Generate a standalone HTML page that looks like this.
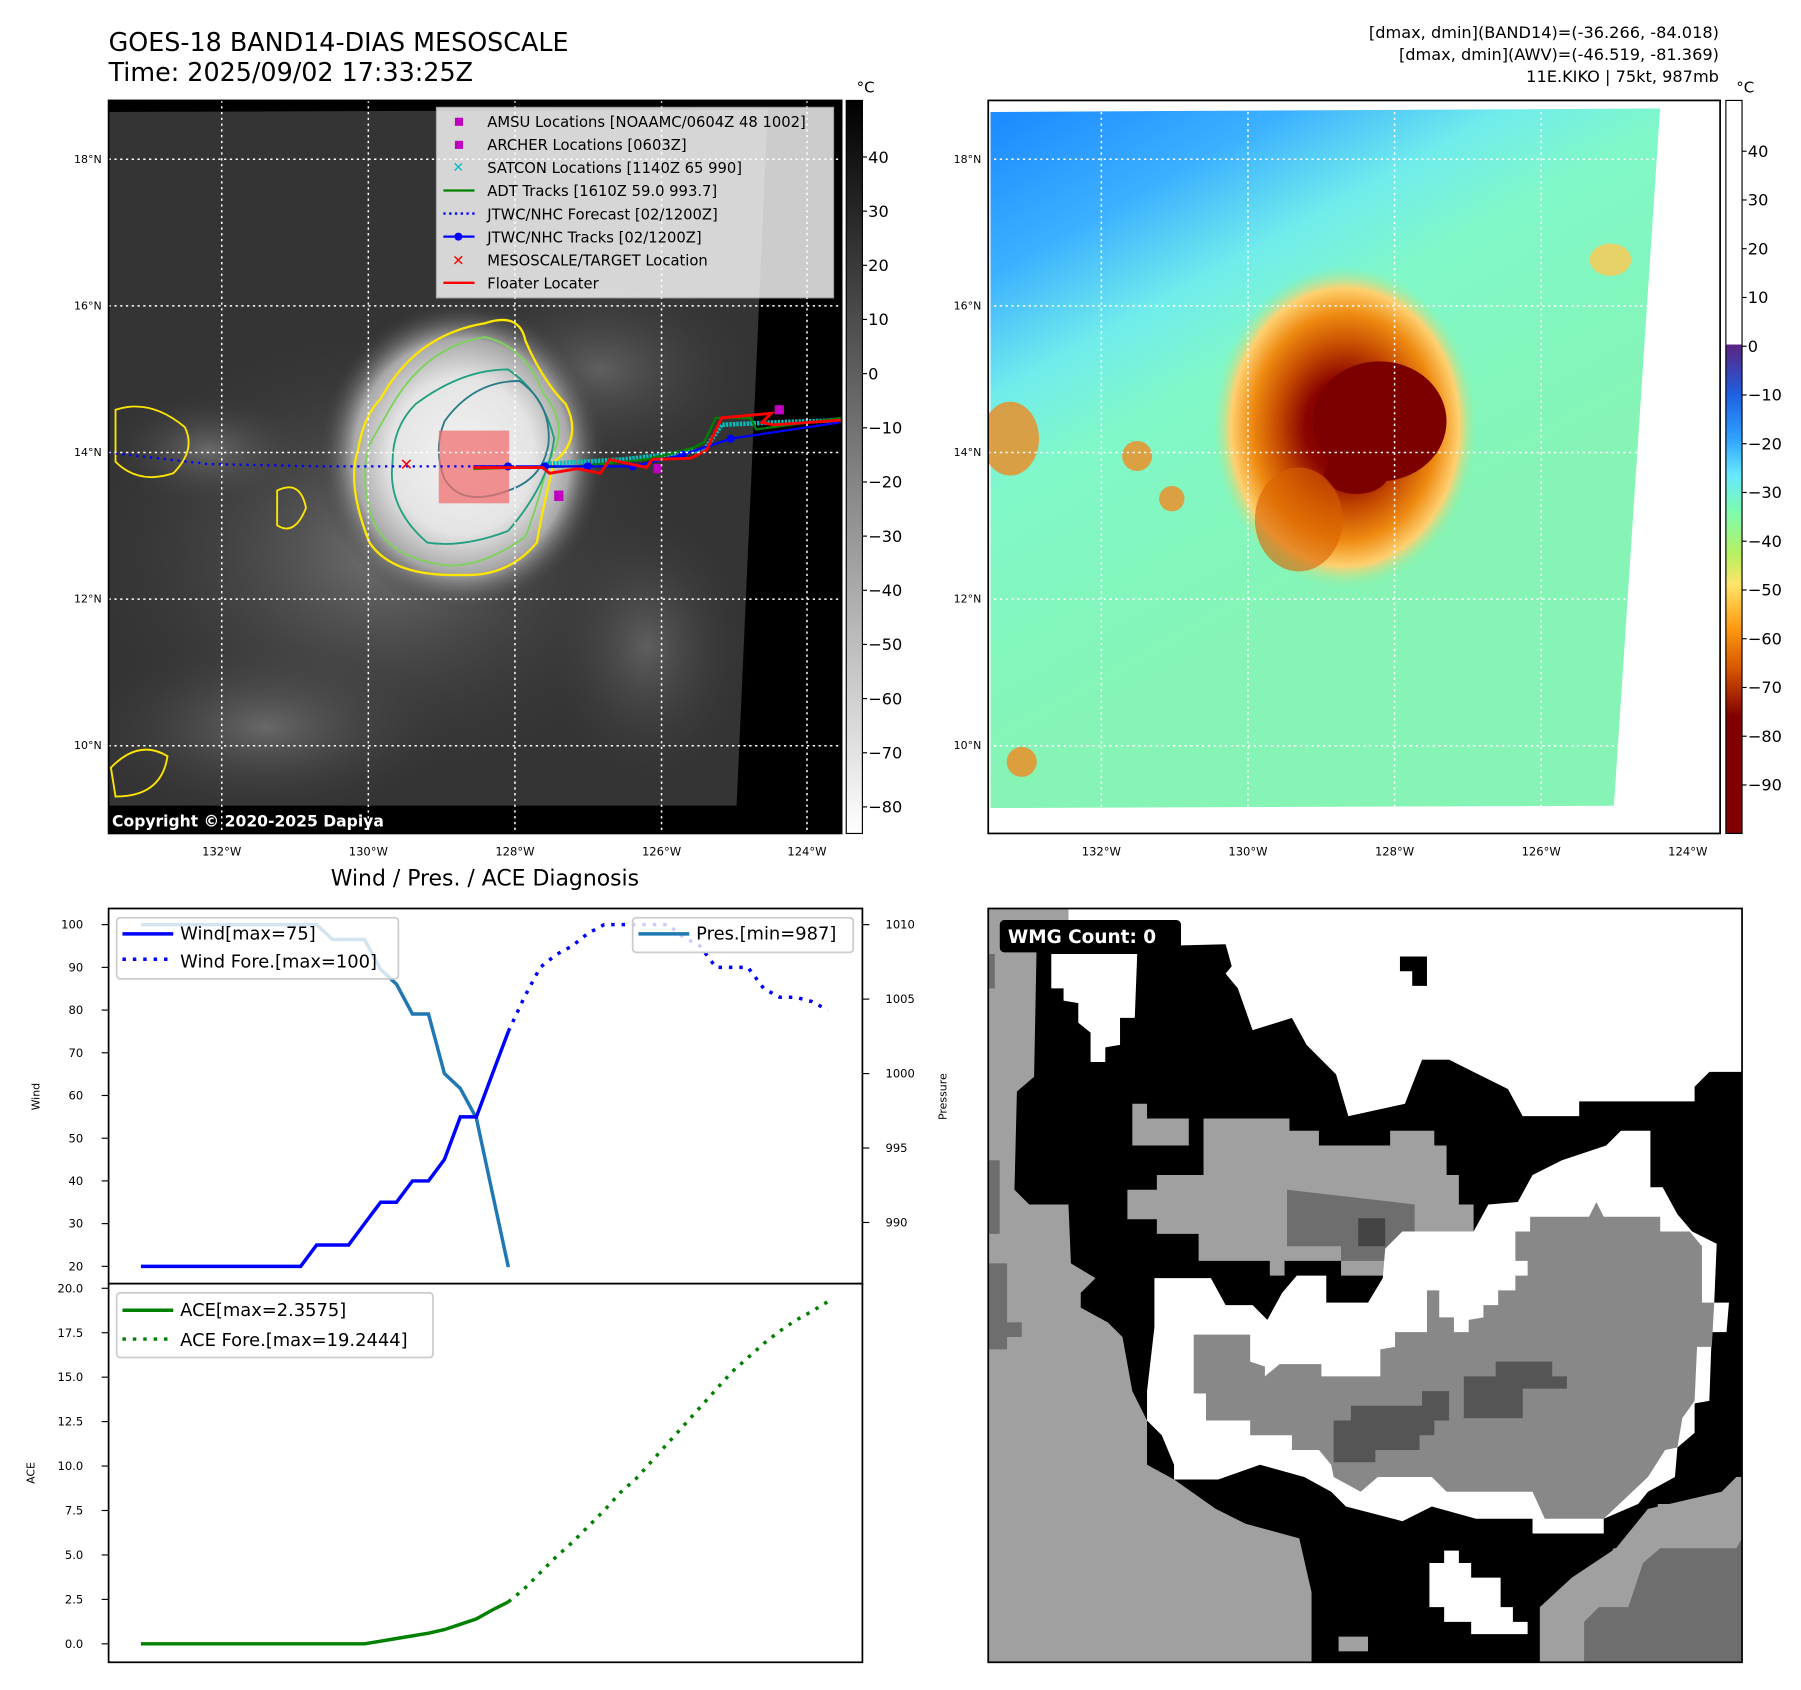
<!DOCTYPE html>
<html><head><meta charset="utf-8"><title>GOES-18 BAND14 KIKO</title>
<style>
html,body{margin:0;padding:0;background:#fff;}
svg{display:block;font-family:"DejaVu Sans","Liberation Sans",sans-serif;}
</style></head>
<body>
<svg id="root" width="1801" height="1690" viewBox="0 0 1560 1464" xmlns="http://www.w3.org/2000/svg">
<defs>
 <radialGradient id="stormGray" cx="0.5" cy="0.5" r="0.5">
  <stop offset="0" stop-color="#f2f2f2"/><stop offset="0.5" stop-color="#e4e4e4"/>
  <stop offset="0.75" stop-color="#a8a8a8"/><stop offset="1" stop-color="#3a3a3a" stop-opacity="0"/>
 </radialGradient>
 <linearGradient id="cb1" x1="0" y1="0" x2="0" y2="1">
  <stop offset="0" stop-color="#000"/><stop offset="1" stop-color="#fff"/>
 </linearGradient>
 <linearGradient id="cb2" x1="0" y1="0" x2="0" y2="1">
  <stop offset="0" stop-color="#fff"/><stop offset="0.332" stop-color="#fff"/>
  <stop offset="0.334" stop-color="#5a2483"/><stop offset="0.40" stop-color="#1f5fe0"/>
  <stop offset="0.46" stop-color="#2ea0ff"/><stop offset="0.51" stop-color="#66e8ff"/>
  <stop offset="0.56" stop-color="#7cfbb0"/><stop offset="0.62" stop-color="#b8f060"/>
  <stop offset="0.66" stop-color="#ffe46a"/><stop offset="0.72" stop-color="#ff9a10"/>
  <stop offset="0.78" stop-color="#d25000"/><stop offset="0.84" stop-color="#800000"/>
  <stop offset="1" stop-color="#800000"/>
 </linearGradient>
 <linearGradient id="bg2" x1="0.05" y1="0" x2="0.45" y2="0.75">
  <stop offset="0" stop-color="#1e8cff"/><stop offset="0.22" stop-color="#3cb0ff"/>
  <stop offset="0.4" stop-color="#70ecec"/><stop offset="0.55" stop-color="#80f8c8"/>
  <stop offset="1" stop-color="#86f4b4"/>
 </linearGradient>
 <radialGradient id="storm2" cx="0.5" cy="0.5" r="0.5">
  <stop offset="0" stop-color="#7a0000"/><stop offset="0.3" stop-color="#8a0400"/>
  <stop offset="0.5" stop-color="#c44800"/><stop offset="0.7" stop-color="#ee8a10"/>
  <stop offset="0.86" stop-color="#ffd070"/><stop offset="1" stop-color="#90f0a0" stop-opacity="0"/>
 </radialGradient>
 <radialGradient id="clouds" cx="0.5" cy="0.5" r="0.5">
  <stop offset="0" stop-color="#8a8a8a"/><stop offset="1" stop-color="#3a3a3a" stop-opacity="0"/>
 </radialGradient>
 <clipPath id="clip1"><rect x="94" y="87" width="635" height="635"/></clipPath>
 <clipPath id="clip2"><rect x="856" y="87" width="634" height="635"/></clipPath>
</defs>

<!-- Titles -->
<text x="94" y="44" font-size="22">GOES-18 BAND14-DIAS MESOSCALE</text>
<text x="94" y="70" font-size="22">Time: 2025/09/02 17:33:25Z</text>
<g font-size="14" text-anchor="end">
 <text x="1489" y="33">[dmax, dmin](BAND14)=(-36.266, -84.018)</text>
 <text x="1489" y="52">[dmax, dmin](AWV)=(-46.519, -81.369)</text>
 <text x="1489" y="71">11E.KIKO | 75kt, 987mb</text>
</g>

<!-- MAP 1 -->
<g clip-path="url(#clip1)">
 <rect x="94" y="87" width="635" height="635" fill="#000"/>
 <polygon points="94,97 665,95 638,698 94,698" fill="#343434"/>
 <ellipse cx="330" cy="480" rx="260" ry="200" fill="url(#clouds)" opacity="0.7"/>
 <ellipse cx="520" cy="320" rx="140" ry="90" fill="url(#clouds)" opacity="0.5"/>
 <ellipse cx="230" cy="630" rx="160" ry="80" fill="url(#clouds)" opacity="0.6"/>
 <ellipse cx="560" cy="560" rx="90" ry="120" fill="url(#clouds)" opacity="0.5"/>
 <ellipse cx="180" cy="390" rx="90" ry="50" fill="url(#clouds)" opacity="0.6"/>
 <ellipse cx="400" cy="395" rx="125" ry="135" fill="url(#stormGray)"/>
 <path d="M330,345 Q360,290 420,280 Q450,270 455,295 Q470,330 490,350 Q505,380 480,400 Q470,440 465,470 Q440,500 400,498 Q340,500 320,470 Q300,420 310,390 Q315,360 330,345Z" fill="none" stroke="#ffe600" stroke-width="2"/>
 <path d="M340,350 Q370,300 420,292 Q455,300 470,340 Q495,370 475,400 Q465,440 455,465 Q420,490 390,490 Q340,485 325,455 Q310,420 320,385Z" fill="none" stroke="#7dd35a" stroke-width="1.6"/>
 <path d="M360,350 Q400,320 440,320 Q470,340 480,380 Q475,420 440,460 Q400,475 370,470 Q335,440 340,400 Q340,370 360,350Z" fill="none" stroke="#20a080" stroke-width="1.6"/>
 <path d="M385,365 Q410,330 450,330 Q478,350 475,385 Q470,415 440,425 Q400,440 385,415 Q375,390 385,365Z" fill="none" stroke="#2a7a8a" stroke-width="1.6"/>
 <path d="M100,355 Q130,345 160,370 Q170,390 150,410 Q120,420 100,400Z" fill="none" stroke="#ffe600" stroke-width="1.6"/>
 <path d="M240,425 Q260,415 265,440 Q255,465 240,455Z" fill="none" stroke="#ffe600" stroke-width="1.6"/>
 <path d="M96,665 Q120,640 145,655 Q140,690 100,690Z" fill="none" stroke="#ffe600" stroke-width="1.6"/>
 <rect x="380" y="373" width="61" height="63" fill="#f07070" opacity="0.75"/>
 <polyline points="94,392 180,402 280,404 440,404" fill="none" stroke="#0000ff" stroke-width="2" stroke-dasharray="2,4"/>
 <polyline points="470,402 540,398 610,390 625,368 668,366 729,364" fill="none" stroke="#00c0c0" stroke-width="4" stroke-dasharray="2,1"/>
 <polyline points="410,406 500,404 560,398 600,388 610,383 620,362 650,362 655,372 729,362" fill="none" stroke="#008000" stroke-width="2"/>
 <polyline points="410,404 440,404 472,404 509,404 548,404 591,394 633,380 727,366" fill="none" stroke="#0000ff" stroke-width="2"/>
 <g fill="#0000ff"><circle cx="440" cy="404" r="3.5"/><circle cx="472" cy="404" r="3.5"/><circle cx="509" cy="404" r="3.5"/><circle cx="548" cy="404" r="3.5"/><circle cx="591" cy="394" r="3.5"/><circle cx="633" cy="380" r="3.5"/></g>
 <polyline points="410,405 470,405 476,410 500,406 520,410 528,398 560,405 565,398 598,397 612,390 625,362 668,358 660,366 670,368 729,364" fill="none" stroke="#ff0000" stroke-width="2.5"/>
 <text x="352" y="407" font-size="14" fill="#ff0000" text-anchor="middle" font-weight="bold">✕</text>
 <rect x="480" y="425" width="8" height="9" fill="#c000c0"/><rect x="671" y="351" width="8" height="8" fill="#c000c0"/><rect x="566" y="402" width="7" height="8" fill="#c000c0"/>
 <rect x="94" y="698" width="635" height="24" fill="#000"/>
 <text x="97" y="716" font-size="13.5" font-weight="bold" fill="#fff">Copyright © 2020-2025 Dapiya</text>
 <g stroke="#fff" stroke-width="1.3" stroke-dasharray="2,3">
  <line x1="192" y1="87" x2="192" y2="722"/><line x1="319" y1="87" x2="319" y2="722"/><line x1="446" y1="87" x2="446" y2="722"/><line x1="573" y1="87" x2="573" y2="722"/><line x1="699" y1="87" x2="699" y2="722"/>
  <line x1="94" y1="138" x2="729" y2="138"/><line x1="94" y1="265" x2="729" y2="265"/><line x1="94" y1="392" x2="729" y2="392"/><line x1="94" y1="519" x2="729" y2="519"/><line x1="94" y1="646" x2="729" y2="646"/>
 </g>
 <g>
  <rect x="378" y="93" width="344" height="165" fill="#fff" opacity="0.8" stroke="#ccc"/>
  <g font-size="12.8">
   <rect x="394" y="102" width="7" height="7" fill="#c000c0"/><text x="422" y="110">AMSU Locations [NOAAMC/0604Z 48 1002]</text>
   <rect x="394" y="122" width="7" height="7" fill="#c000c0"/><text x="422" y="130">ARCHER Locations [0603Z]</text>
   <text x="397" y="149" fill="#00c0c0" text-anchor="middle" font-size="12" font-weight="bold">✕</text><text x="422" y="150">SATCON Locations [1140Z 65 990]</text>
   <line x1="384" y1="165" x2="411" y2="165" stroke="#008000" stroke-width="2"/><text x="422" y="170">ADT Tracks [1610Z 59.0 993.7]</text>
   <line x1="384" y1="185" x2="411" y2="185" stroke="#0000ff" stroke-width="2" stroke-dasharray="2,3"/><text x="422" y="190">JTWC/NHC Forecast [02/1200Z]</text>
   <line x1="384" y1="205" x2="411" y2="205" stroke="#0000ff" stroke-width="2"/><circle cx="397" cy="205" r="3.5" fill="#0000ff"/><text x="422" y="210">JTWC/NHC Tracks [02/1200Z]</text>
   <text x="397" y="230" fill="#ff0000" text-anchor="middle" font-weight="bold">✕</text><text x="422" y="230">MESOSCALE/TARGET Location</text>
   <line x1="384" y1="245" x2="411" y2="245" stroke="#ff0000" stroke-width="2"/><text x="422" y="250">Floater Locater</text>
  </g>
 </g>
</g>
<rect x="94" y="87" width="635" height="635" fill="none" stroke="#000" stroke-width="1.5"/>
<g font-size="9.5" text-anchor="end">
 <text x="88" y="141">18°N</text><text x="88" y="268">16°N</text><text x="88" y="395">14°N</text><text x="88" y="522">12°N</text><text x="88" y="649">10°N</text>
</g>
<g font-size="10" text-anchor="middle">
 <text x="192" y="741">132°W</text><text x="319" y="741">130°W</text><text x="446" y="741">128°W</text><text x="573" y="741">126°W</text><text x="699" y="741">124°W</text>
</g>
<g>
 <rect x="733" y="87" width="14" height="635" fill="url(#cb1)" stroke="#000" stroke-width="1"/>
 <text x="742" y="80" font-size="13">°C</text>
 <g id="cb1ticks" font-size="14"></g>
</g>

<!-- MAP 2 -->
<g clip-path="url(#clip2)">
 <rect x="856" y="87" width="634" height="635" fill="#fff"/>
 <polygon points="858,97 1438,94 1398,698 858,700" fill="url(#bg2)"/>
 <ellipse cx="1165" cy="370" rx="115" ry="140" fill="url(#storm2)"/>
 <ellipse cx="1195" cy="365" rx="58" ry="52" fill="#7c0000"/>
 <ellipse cx="1175" cy="410" rx="28" ry="18" fill="#7c0000"/>
 <ellipse cx="1125" cy="450" rx="38" ry="45" fill="#d86000" opacity="0.6"/>
 <ellipse cx="875" cy="380" rx="25" ry="32" fill="#f08a20" opacity="0.8"/>
 <ellipse cx="985" cy="395" rx="13" ry="13" fill="#f08a20" opacity="0.8"/>
 <ellipse cx="1015" cy="432" rx="11" ry="11" fill="#f08a20" opacity="0.8"/>
 <ellipse cx="885" cy="660" rx="13" ry="13" fill="#f08a20" opacity="0.8"/>
 <ellipse cx="1395" cy="225" rx="18" ry="14" fill="#ffc850" opacity="0.8"/>
 <g stroke="#fff" stroke-width="1.3" stroke-dasharray="2,3">
  <line x1="954" y1="87" x2="954" y2="722"/><line x1="1081" y1="87" x2="1081" y2="722"/><line x1="1208" y1="87" x2="1208" y2="722"/><line x1="1335" y1="87" x2="1335" y2="722"/><line x1="1462" y1="87" x2="1462" y2="722"/>
  <line x1="856" y1="138" x2="1490" y2="138"/><line x1="856" y1="265" x2="1490" y2="265"/><line x1="856" y1="392" x2="1490" y2="392"/><line x1="856" y1="519" x2="1490" y2="519"/><line x1="856" y1="646" x2="1490" y2="646"/>
 </g>
</g>
<rect x="856" y="87" width="634" height="635" fill="none" stroke="#000" stroke-width="1.5"/>
<g font-size="9.5" text-anchor="end">
 <text x="850" y="141">18°N</text><text x="850" y="268">16°N</text><text x="850" y="395">14°N</text><text x="850" y="522">12°N</text><text x="850" y="649">10°N</text>
</g>
<g font-size="10" text-anchor="middle">
 <text x="954" y="741">132°W</text><text x="1081" y="741">130°W</text><text x="1208" y="741">128°W</text><text x="1335" y="741">126°W</text><text x="1462" y="741">124°W</text>
</g>
<g>
 <rect x="1495" y="87" width="14" height="635" fill="url(#cb2)" stroke="#000" stroke-width="1"/>
 <text x="1504" y="80" font-size="13">°C</text>
 <g id="cb2ticks" font-size="14"></g>
</g>

<!-- WIND / PRES / ACE -->
<text x="420" y="767" font-size="19" text-anchor="middle">Wind / Pres. / ACE Diagnosis</text>
<g id="windChart"></g>
<g id="aceChart"></g>
<text transform="translate(34,950) rotate(-90)" font-size="9.5" text-anchor="middle">Wind</text>
<text transform="translate(820,950) rotate(-90)" font-size="9.5" text-anchor="middle">Pressure</text>
<text transform="translate(30,1276) rotate(-90)" font-size="9.5" text-anchor="middle">ACE</text>

<!-- WMG panel -->
<g>
 <svg x="856" y="787" width="653" height="653" viewBox="6.6 7.3 1535 1535" preserveAspectRatio="none">
  <rect x="0" y="0" width="1547" height="1547" fill="#a0a0a0"/>
  <polygon points="170,0 1547,0 1547,340 170,80" fill="#fff"/>
  <polygon points="105,90 490,80 515,170 545,255 625,230 655,285 715,345 740,430 855,405 890,315 945,315 1005,345 1065,375 1095,430 1210,400 1445,370 1475,340 1547,330 1547,1160 1530,1170 1500,1220 1370,1220 1370,1310 1280,1310 1250,1370 1165,1400 1130,1430 1130,1547 665,1547 665,1400 640,1290 530,1260 470,1230 385,1170 330,1140 330,1050 300,990 280,880 250,850 195,820 195,790 225,760 175,730 170,610 90,610 60,580 65,380 100,350" fill="#000"/>
  <polygon points="0,0 140,0 140,25 0,25" fill="#a0a0a0"/>
  <polygon points="135,100 310,100 305,230 275,230 275,285 245,290 245,320 215,320 215,260 190,240 190,200 160,195 160,170 135,170" fill="#fff"/>
  <polygon points="490,80 1547,80 1547,340 1475,340 1445,370 1445,400 1210,400 1210,430 1095,430 1065,375 1005,345 945,315 890,315 855,405 740,430 715,345 655,285 625,230 545,255 515,170 490,140 515,110" fill="#fff"/>
  <polygon points="845,105 900,105 900,165 870,165 870,135 845,135" fill="#000"/>
  <polygon points="445,435 620,435 620,460 680,460 680,490 825,490 825,460 915,460 915,490 940,490 940,550 965,550 965,610 995,610 995,665 875,665 815,700 815,755 725,755 725,725 610,725 610,755 580,755 580,725 435,725 435,670 350,670 350,640 290,640 290,580 350,580 350,550 445,550" fill="#a0a0a0"/>
  <polygon points="300,405 330,405 330,435 415,435 415,490 300,490" fill="#a0a0a0"/>
  <polygon points="615,580 875,610 875,690 815,725 725,725 725,695 615,695" fill="#6e6e6e"/>
  <polygon points="760,638 815,638 815,695 760,695" fill="#444"/>
  <polygon points="1295,460 1355,460 1355,575 1380,575 1410,630 1440,665 1490,690 1485,810 1515,810 1510,870 1480,870 1475,1010 1445,1015 1445,1075 1410,1105 1405,1165 1350,1195 1330,1220 1260,1250 1260,1280 1115,1280 1115,1250 1000,1250 910,1225 850,1255 735,1225 705,1195 650,1165 560,1140 475,1170 385,1170 385,1140 360,1080 330,1050 330,990 345,860 345,760 460,760 490,815 545,815 575,845 605,790 635,755 695,755 695,810 780,810 810,760 815,700 850,665 995,665 1025,610 1085,605 1115,550 1175,520 1265,490" fill="#fff"/>
  <polygon points="1110,635 1230,635 1245,605 1260,635 1375,635 1375,665 1435,665 1460,695 1460,810 1485,810 1480,900 1450,900 1445,1010 1420,1045 1410,1105 1385,1110 1350,1165 1260,1250 1140,1250 1115,1195 940,1195 910,1165 800,1165 765,1195 710,1165 705,1140 680,1110 625,1110 625,1080 540,1080 540,1050 450,1050 450,995 425,995 425,875 540,875 540,930 570,940 570,960 600,935 685,935 685,960 805,960 805,905 835,900 835,870 900,870 900,785 925,785 925,840 955,840 955,870 985,870 985,845 1015,840 1015,815 1045,815 1045,785 1080,785 1080,755 1105,755 1105,725 1080,725 1080,665 1110,665" fill="#888"/>
  <polygon points="1040,930 1155,930 1155,960 1185,960 1185,985 1095,985 1095,1045 975,1045 975,960 1040,960" fill="#555"/>
  <polygon points="745,1020 890,1020 890,990 945,990 945,1050 915,1050 915,1080 885,1080 885,1110 795,1110 795,1135 710,1135 710,1050 745,1050" fill="#555"/>
  <polygon points="0,730 45,730 45,850 75,850 75,880 45,880 45,905 0,905" fill="#6e6e6e"/>
  <polygon points="0,520 30,520 30,670 0,670" fill="#6e6e6e"/>
  <polygon points="0,100 20,100 20,170 0,170" fill="#6e6e6e"/>
  <polygon points="1130,1547 1130,1430 1195,1370 1285,1310 1350,1230 1500,1195 1530,1165 1547,1165 1547,1547" fill="#a0a0a0"/>
  <polygon points="1220,1547 1220,1460 1250,1430 1310,1430 1340,1340 1375,1310 1530,1310 1547,1280 1547,1547" fill="#6e6e6e"/>
  <polygon points="905,1340 935,1340 935,1315 965,1315 965,1340 990,1340 990,1370 1050,1370 1050,1430 1075,1430 1075,1460 1105,1460 1105,1485 990,1485 990,1460 935,1460 935,1430 905,1430" fill="#fff"/>
  <rect x="720" y="1490" width="60" height="30" fill="#a0a0a0"/>
 </svg>
 <rect x="856" y="787" width="653" height="653" fill="none" stroke="#000" stroke-width="1.5"/>
 <rect x="866" y="797" width="157" height="28" rx="4" fill="#000"/>
 <text x="873" y="817" font-size="16" font-weight="bold" fill="#fff">WMG Count: 0</text>
</g>

<script>
var NS="http://www.w3.org/2000/svg";
// ---- chart data ----
var windObs=[20,20,20,20,20,20,20,20,20,20,20,25,25,25,30,35,35,40,40,45,55,55,65,75];
var windFore=[75,83,90,93,95,98,100,100,100,100,100,97,95,90,90,90,85,83,83,82,80];
var presObs=[1010,1010,1010,1010,1010,1010,1010,1010,1010,1010,1010,1010,1009,1009,1009,1007,1006,1004,1004,1000,999,997,992,987];
var aceObs=[0,0,0,0,0,0,0,0,0,0,0,0,0,0,0,0.15,0.3,0.45,0.6,0.8,1.1,1.4,1.9,2.3575];
var aceFore=[2.3575,3.1,4.0,4.9,5.7,6.6,7.5,8.5,9.3,10.3,11.3,12.3,13.3,14.3,15.3,16.1,16.9,17.6,18.2,18.7,19.2444];
var windTicks=[20,30,40,50,60,70,80,90,100];
var presTicks=[990,995,1000,1005,1010];
var aceTicks=[0,2.5,5,7.5,10,12.5,15,17.5,20];
var irTicks=[40,30,20,10,0,-10,-20,-30,-40,-50,-60,-70,-80];
var awvTicks=[40,30,20,10,0,-10,-20,-30,-40,-50,-60,-70,-80,-90];

// ---- scales ----
function xIdx(i){return 122+i*(717-122)/43;}
function yWind(w){return 1097-(w-20)*(1097-801)/80;}
function yPres(p){return 801+(1010-p)*(1059-801)/20;}
function yAce(a){return 1424-a*(1424-1116)/20;}
function yIr(v){return 136+(40-v)*(699-136)/120;}
function yAwv(v){return 131+(40-v)*(680-131)/130;}

function mk(tag,attrs,parent){var e=document.createElementNS(NS,tag);for(var k in attrs)e.setAttribute(k,attrs[k]);parent.appendChild(e);return e;}
function txt(s,attrs,parent){var e=mk('text',attrs,parent);e.textContent=s;return e;}
function pts(arr,off,yf){return arr.map(function(v,i){return xIdx(i+off).toFixed(1)+','+yf(v).toFixed(1);}).join(' ');}

var g1=document.getElementById('cb1ticks');
irTicks.forEach(function(v){var y=yIr(v);
 mk('line',{x1:747,x2:751,y1:y,y2:y,stroke:'#000'},g1);
 var t=txt(v<0?'\u2212'+(-v):String(v),{x:752,y:y+5},g1);
 
 
});
var g2=document.getElementById('cb2ticks');
awvTicks.forEach(function(v){var y=yAwv(v);
 mk('line',{x1:1509,x2:1513,y1:y,y2:y,stroke:'#000'},g2);
 var t=txt(v<0?'\u2212'+(-v):String(v),{x:1514,y:y+5},g2);
 
 
});

var wc=document.getElementById('windChart');
mk('rect',{x:94,y:787,width:653,height:325,fill:'#fff'},wc);
windTicks.forEach(function(v){var y=yWind(v);
 mk('line',{x1:88,x2:94,y1:y,y2:y,stroke:'#000'},wc);
 var t=txt(String(v),{x:72,y:y+3.5,'font-size':10,'text-anchor':'end'},wc);
 
 
});
presTicks.forEach(function(v){var y=yPres(v);
 mk('line',{x1:747,x2:753,y1:y,y2:y,stroke:'#000'},wc);
 var t=txt(String(v),{x:767,y:y+3.5,'font-size':10},wc);
 
 
});
var pl=mk('polyline',{points:pts(presObs,0,yPres),fill:'none',stroke:'#1f77b4','stroke-width':3},wc);


var wl=mk('polyline',{points:pts(windObs,0,yWind),fill:'none',stroke:'#0000ff','stroke-width':3},wc);


var wf=mk('polyline',{points:pts(windFore,23,yWind),fill:'none',stroke:'#0000ff','stroke-width':3,'stroke-dasharray':'3,6'},wc);


var lg=mk('g',{},wc);


mk('rect',{x:101,y:795,width:244,height:53,rx:3,fill:'#fff','fill-opacity':0.8,stroke:'#ccc','stroke-width':1.5},lg);
mk('line',{x1:106,x2:150,y1:809,y2:809,stroke:'#0000ff','stroke-width':3},lg);
txt('Wind[max=75]',{x:156,y:814,'font-size':15.5},lg);
mk('line',{x1:106,x2:150,y1:831,y2:831,stroke:'#0000ff','stroke-width':3,'stroke-dasharray':'3,6'},lg);
txt('Wind Fore.[max=100]',{x:156,y:838,'font-size':15.5},lg);
var lp=mk('g',{},wc);


mk('rect',{x:548,y:795,width:191,height:30,rx:3,fill:'#fff','fill-opacity':0.8,stroke:'#ccc','stroke-width':1.5},lp);
mk('line',{x1:553,x2:597,y1:809,y2:809,stroke:'#1f77b4','stroke-width':3},lp);
txt('Pres.[min=987]',{x:603,y:814,'font-size':15.5},lp);
mk('rect',{x:94,y:787,width:653,height:325,fill:'none',stroke:'#000','stroke-width':1.5},wc);

var ac=document.getElementById('aceChart');
mk('rect',{x:94,y:1112,width:653,height:328,fill:'#fff'},ac);
aceTicks.forEach(function(v){var y=yAce(v);
 mk('line',{x1:88,x2:94,y1:y,y2:y,stroke:'#000'},ac);
 var t=txt(v.toFixed(1),{x:72,y:y+3.5,'font-size':10,'text-anchor':'end'},ac);
 
 
});
var al=mk('polyline',{points:pts(aceObs,0,yAce),fill:'none',stroke:'#008000','stroke-width':3},ac);


var af=mk('polyline',{points:pts(aceFore,23,yAce),fill:'none',stroke:'#008000','stroke-width':3,'stroke-dasharray':'3,6'},ac);


var la=mk('g',{},ac);


mk('rect',{x:101,y:1120,width:274,height:56,rx:3,fill:'#fff','fill-opacity':0.8,stroke:'#ccc','stroke-width':1.5},la);
mk('line',{x1:106,x2:150,y1:1135,y2:1135,stroke:'#008000','stroke-width':3},la);
txt('ACE[max=2.3575]',{x:156,y:1140,'font-size':15.5},la);
mk('line',{x1:106,x2:150,y1:1160,y2:1160,stroke:'#008000','stroke-width':3,'stroke-dasharray':'3,6'},la);
txt('ACE Fore.[max=19.2444]',{x:156,y:1166,'font-size':15.5},la);
mk('rect',{x:94,y:1112,width:653,height:328,fill:'none',stroke:'#000','stroke-width':1.5},ac);
</script>
</svg>
</body></html>
